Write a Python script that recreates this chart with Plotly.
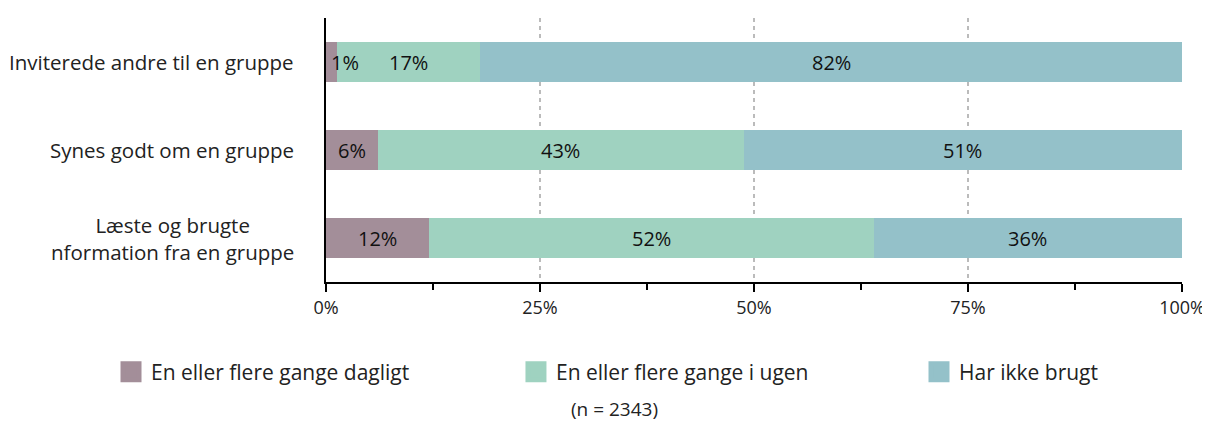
import plotly.graph_objects as go

categories = ["Læste og brugte<br>nformation fra en gruppe", "Synes godt om en gruppe", "Inviterede andre til en gruppe"]
series_names = ["En eller flere gange dagligt", "En eller flere gange i ugen", "Har ikke brugt"]
daily = [12.0, 6.1, 1.3]
weekly = [52.0, 42.7, 16.7]
never = [36.0, 51.2, 82.0]
daily_lbl = ["12%", "6%", "1%"]
weekly_lbl = ["52%", "43%", "17%"]
never_lbl = ["36%", "51%", "82%"]
tick_vals = [0, 25, 50, 75, 100]
tick_text = ["0%", "25%", "50%", "75%", "100%"]
colors = ["#a38e99", "#9fd2c0", "#94c1c9"]
FONT = "Open Sans"
FS = 20.5

W, H = 1202, 415  # page has an 8px body margin
fig = go.Figure()
ypos = list(range(len(categories)))
series = [daily, weekly, never]
labels = [daily_lbl, weekly_lbl, never_lbl]
for name, vals, col in zip(series_names, series, colors):
    fig.add_trace(go.Bar(y=ypos, x=vals, name=name, orientation="h",
                         marker=dict(color=col, line=dict(width=0)),
                         width=0.45, showlegend=False, hoverinfo="skip"))
legend_ids = ["legend", "legend2", "legend3"]
for name, col, lid in zip(series_names, colors, legend_ids):
    fig.add_trace(go.Scatter(x=[None], y=[None], mode="markers", name=name, legend=lid,
                             marker=dict(symbol="square", size=22, color=col,
                                         line=dict(color=col, width=5))))

annotations = []
for i in ypos:
    start = 0
    for s, (vals, lbls) in enumerate(zip(series, labels)):
        v = vals[i]
        if v < 3:
            annotations.append(dict(x=start, y=i, text=lbls[i], showarrow=False,
                                    xanchor="left", yanchor="middle", xshift=3,
                                    font=dict(size=20, color="#111")))
        else:
            annotations.append(dict(x=start + v / 2, y=i, text=lbls[i], showarrow=False,
                                    xanchor="center", yanchor="middle",
                                    font=dict(size=20, color="#111")))
        start += v
    annotations.append(dict(x=0, xref="paper", y=i, text=categories[i], showarrow=False,
                            xanchor="right", yanchor="middle", xshift=-30, align="center",
                            font=dict(size=FS, color="#222")))
annotations.append(dict(x=0.3376, xref="paper", y=-0.48, yref="paper", text="(n = 2343)",
                        xanchor="center", yanchor="middle",
                        showarrow=False, font=dict(size=19, color="#222")))

leg_x = [0.0857, 0.4226, 0.7579]
leg_common = dict(orientation="h", xref="container", yref="container",
                  y=1 - 364 / H, xanchor="left", yanchor="middle",
                  font=dict(size=21, color="#222"), itemsizing="trace",
                  bgcolor="rgba(0,0,0,0)")

fig.update_layout(
    width=W, height=H,
    margin=dict(l=318, r=28, t=10, b=141, autoexpand=False),
    barmode="stack",
    plot_bgcolor="white", paper_bgcolor="white",
    font=dict(family=FONT, size=FS, color="#222"),
    annotations=annotations,
    legend=dict(x=leg_x[0], **leg_common),
    legend2=dict(x=leg_x[1], **leg_common),
    legend3=dict(x=leg_x[2], **leg_common),
    xaxis=dict(range=[0, 100], tickvals=tick_vals, ticktext=tick_text,
               showgrid=True, gridcolor="#bbbbbb", griddash="4px,4px", gridwidth=1.5,
               ticks="outside", ticklen=8, tickwidth=2, tickcolor="black",
               showline=True, linecolor="black", linewidth=2, automargin=False,
               minor=dict(dtick=12.5, tick0=0, ticks="outside", ticklen=6, tickwidth=2,
                          tickcolor="black", showgrid=False),
               zeroline=False, tickfont=dict(size=18, color="#222"), fixedrange=True),
    yaxis=dict(range=[-0.5, 2.5], showticklabels=False, showgrid=False, zeroline=False,
               automargin=False,
               showline=True, linecolor="black", linewidth=2, ticks="", fixedrange=True),
)

fig.write_html("out.html")
